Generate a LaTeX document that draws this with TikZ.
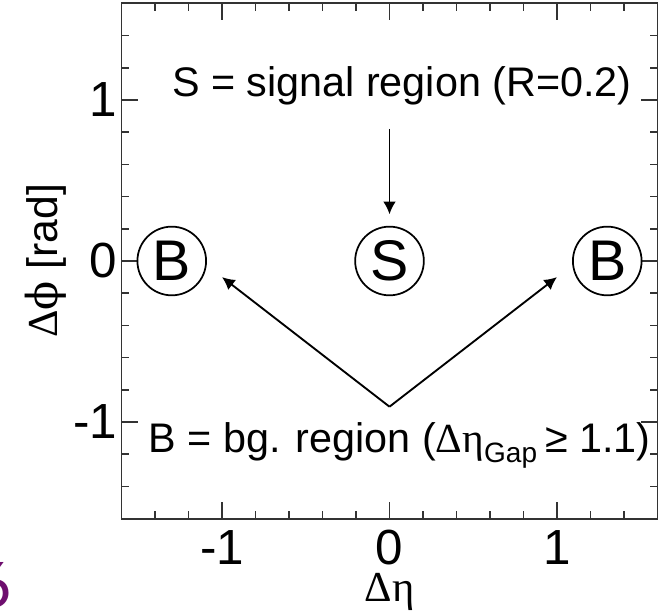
\documentclass[tikz,border=0pt]{standalone}
\usepackage{fontspec}
\setmainfont{Liberation Sans}
\newfontfamily\grk{Liberation Serif}
\newfontfamily\grkphi{DejaVu Serif}
\newfontfamily\carl{Carlito}
\usetikzlibrary{arrows.meta}
\definecolor{framegray}{RGB}{51,51,51}
\definecolor{purp}{RGB}{110,14,110}
\begin{document}
\begin{tikzpicture}[x=125.625pt,y=120.75pt,
  frameline/.style={draw=framegray, line width=1.4pt},
  tickline/.style={draw=framegray, line width=1.2pt},
  region/.style={circle, draw=black, line width=1.3pt, minimum size=51.5pt, inner sep=0pt, font=\fontsize{43}{43}\selectfont},
  arr/.style={draw=black, line width=1.4pt, -{Latex[length=9.5pt,width=9.5pt]}},
  ticklab/.style={inner sep=0pt, font=\fontsize{37}{37}\selectfont},
  maintext/.style={inner sep=0pt, font=\fontsize{31}{31}\selectfont},
  axtitle/.style={inner sep=0pt, font=\fontsize{32}{32}\selectfont}]
\useasboundingbox (-2.3254,-2.1739) rectangle (1.6388,1.6211);
% ticks
\foreach \t in {-1.4,-1.2,-0.8,-0.6,-0.4,-0.2,0.2,0.4,0.6,0.8,1.2,1.4} {
  \draw[tickline] (\t,-1.6) -- ++(0,6pt);
  \draw[tickline] (\t,1.6) -- ++(0,-6pt);
  \draw[tickline] (-1.6,\t) -- ++(6pt,0);
  \draw[tickline] (1.6,\t) -- ++(-6pt,0);
}
\foreach \t in {-1,0,1} {
  \draw[tickline] (\t,-1.6) -- ++(0,12.75pt);
  \draw[tickline] (\t,1.6) -- ++(0,-12.75pt);
  \draw[tickline] (-1.6,\t) -- ++(12.75pt,0);
  \draw[tickline] (1.6,\t) -- ++(-12.75pt,0);
}
\draw[frameline] (-1.6,-1.6) rectangle (1.6,1.6);
% tick labels
\foreach \t/\n in {-1/m,0/z,1/p} {
  \node[ticklab, anchor=north] (xl\n) at ([yshift=-8.5pt]\t,-1.6) {\t};
  \node[ticklab, anchor=east] (yl\n) at ([xshift=-3pt]-1.6,\t) {\t};
}
% axis titles
\node[axtitle] (xtitle) at (0,-2.055) {{\grk Δη}};
\node[axtitle, rotate=90] (ytitle) at (-2.05,0) {{\grk Δ}{\grkphi ϕ} [rad]};
% regions
\node[region] (S) at (0,0) {S};
\node[region] (BL) at (-1.3,0) {B};
\node[region] (BR) at (1.3,0) {B};
% texts
\node[maintext, anchor=base west] (stext) at (-1.3,1.02) {S = signal region (R=0.2)};
\node[maintext, anchor=base west] (btext) at (-1.441,-1.19) {B = bg. region ({\grk Δη}\raisebox{-7.5pt}{\fontsize{21}{21}\selectfont Gap}\hspace{6pt}≥ 1.1)};
% arrows
\coordinate (sfrom) at (0,0.82);
\coordinate (sto) at (0,0.29);
\coordinate (apex) at (0,-0.905);
\coordinate (ltip) at (-1.0,-0.1);
\coordinate (rtip) at (1.0,-0.1);
\draw[arr] (sfrom) -- (sto);
\draw[arr] (apex) -- (ltip);
\draw[arr] (apex) -- (rtip);
% purple fragment at the lower left edge
\node[anchor=base east, inner sep=0pt, text=purp, font=\fontsize{50}{50}\selectfont\carl] (frag) at (-2.2537,-2.155) {6};
\end{tikzpicture}
\end{document}
